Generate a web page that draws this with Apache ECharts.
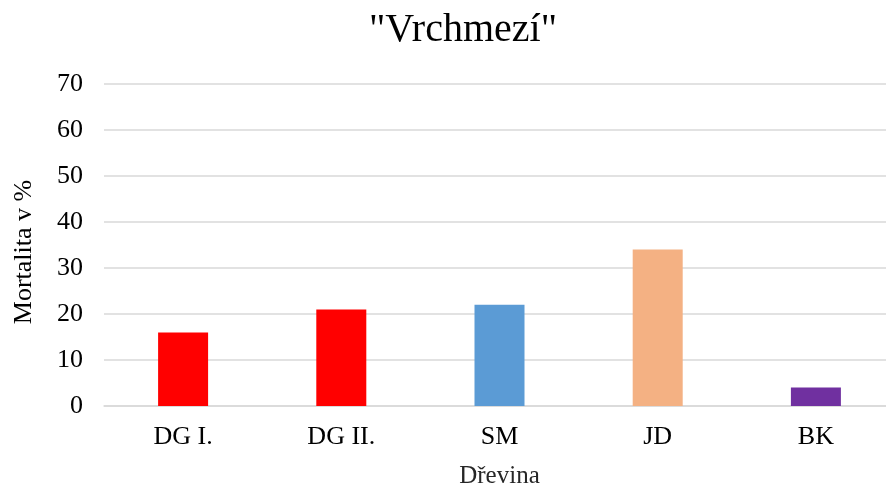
<!DOCTYPE html>
<html>
<head>
<meta charset="utf-8">
<script src="https://cdn.jsdelivr.net/npm/echarts@6/dist/echarts.min.js"></script>
<style>
  html, body { margin: 0; padding: 0; background: #fff; }
  #chart { width: 886px; height: 486px; }
</style>
</head>
<body>
<div id="chart"></div>
<script>
const categories = ['DG I.', 'DG II.', 'SM', 'JD', 'BK']
const mortality = [16, 21, 22, 34, 4]
const barColors = ['#ff0000', '#ff0000', '#5b9bd5', '#f4b183', '#7030a0']

const font = '"Liberation Serif", "Times New Roman", serif'
const chart = echarts.init(document.getElementById('chart'))

const option = {
  animation: false,
  backgroundColor: '#fff',
  title: {
    text: '"Vrchmezí"',
    left: 458,
    textAlign: 'center',
    top: 5,
    textStyle: { fontFamily: font, fontSize: 40, fontWeight: 'normal', color: '#000' }
  },
  grid: { left: 104, top: 84, width: 791, height: 322, outerBoundsMode: 'none', containLabel: false },
  xAxis: {
    type: 'category',
    data: categories,
    name: 'Dřevina',
    nameLocation: 'middle',
    nameGap: 58,
    nameTextStyle: { fontFamily: font, fontSize: 25, color: '#262626' },
    axisLine: { lineStyle: { color: '#d9d9d9', width: 1.5 } },
    axisTick: { show: false },
    axisLabel: { fontFamily: font, fontSize: 26, color: '#000', margin: 18 }
  },
  yAxis: {
    type: 'value',
    min: 0,
    max: 70,
    interval: 10,
    name: 'Mortalita v %',
    nameLocation: 'middle',
    nameGap: 67,
    nameTextStyle: { fontFamily: font, fontSize: 26, color: '#000', padding: [0, 14, 0, 0] },
    axisLine: { show: false },
    axisTick: { show: false },
    axisLabel: { fontFamily: font, fontSize: 26, color: '#000', margin: 21 },
    splitLine: { lineStyle: { color: '#d9d9d9', width: 1.5 } }
  },
  series: [{
    type: 'bar',
    data: mortality.map((v, i) => ({ value: v, itemStyle: { color: barColors[i] } })),
    barWidth: 50
  }]
}

chart.setOption(option)
</script>
</body>
</html>
